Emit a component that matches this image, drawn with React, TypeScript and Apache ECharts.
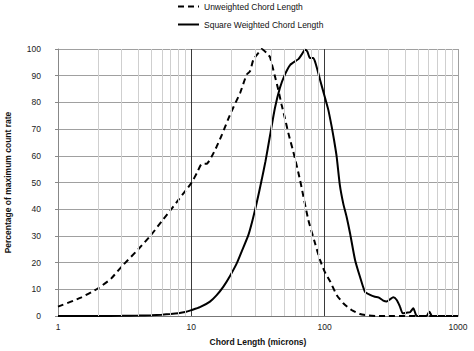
import React, { useEffect, useRef } from "react";
import * as echarts from "echarts";

const unweightedX = [1, 1.5, 2, 2.5, 3, 4, 5, 6, 7, 8, 9, 10, 11, 12, 13, 14.2, 15.5, 17, 19, 20.6, 23.2, 26, 27.5, 29.2, 31.8, 33.7, 36.7, 38.9, 40, 42.4, 44.9, 47.6, 50.4, 53.4, 58.2, 65.3, 75.4, 85, 92.3, 100, 110, 123, 138, 159, 184, 210, 250, 1000];
const unweightedY = [3.5, 7, 10.4, 14, 18.5, 25, 30.4, 35.5, 39.7, 43.5, 46.8, 49.8, 53.5, 57, 57, 59.7, 63.5, 68, 74, 78, 83.5, 90.4, 91.6, 96, 98.5, 100, 98.5, 97, 94.7, 89.7, 84.7, 79, 74, 68.5, 61.5, 51, 36, 27, 21, 16.6, 12.9, 7.9, 4.75, 2.25, 0.75, 0.2, 0, 0];

const weightedX = [1, 2, 3, 4, 5, 6, 7, 8, 9, 10, 11.6, 13.8, 15.5, 17.4, 19.5, 21.9, 24, 26.8, 28.8, 30.9, 33.7, 36, 38.9, 42.4, 46.2, 50.4, 55, 59.9, 63.5, 67.2, 71.2, 74.1, 77.6, 82.2, 86.1, 92.3, 100, 106.5, 112.8, 117.5, 123, 130, 138, 146, 155, 169, 184, 200.6, 219, 238, 253, 275, 292, 309, 327, 347, 367, 385, 412, 437, 462, 484, 500, 580, 610, 640, 1000];
const weightedY = [0, 0, 0.05, 0.15, 0.3, 0.5, 0.75, 1.05, 1.5, 2.2, 3.3, 5.4, 7.8, 11, 15, 19.7, 24.5, 30.4, 36, 42.3, 51, 58, 67.5, 78, 85.5, 90.5, 94, 95.4, 96.2, 97.9, 99.7, 99.1, 96.6, 96.6, 94.1, 88.5, 82.2, 77.2, 71, 66, 59.7, 49, 42, 37.2, 31, 21, 14.7, 9.1, 7.9, 7.2, 7, 5.75, 5.4, 6.25, 7, 6, 3.5, 1, 1.25, 1.4, 2.9, 0.4, 0, 0, 1.6, 0, 0];

const minorGridX = [2, 3, 4, 5, 6, 7, 8, 9, 20, 30, 40, 50, 60, 70, 80, 90, 200, 300, 400, 500, 600, 700, 800, 900];
const seriesNames = ["Unweighted Chord Length", "Square Weighted Chord Length"];
const xAxisTitle = "Chord Length (microns)";
const yAxisTitle = "Percentage of maximum count rate";

const FONT = "'Liberation Sans', Arial, sans-serif";

export default function App() {
  const ref = useRef<HTMLDivElement>(null);
  useEffect(() => {
    if (!ref.current) return;
    const chart = echarts.init(ref.current, undefined, { renderer: "svg" });
    chart.setOption({
      animation: false,
      backgroundColor: "#ffffff",
      textStyle: { fontFamily: FONT },
      legend: {
        orient: "vertical",
        left: 177,
        top: 2,
        padding: 0,
        itemWidth: 21,
        itemHeight: 10,
        itemGap: 9,
        itemStyle: { opacity: 0 },
        textStyle: { fontFamily: FONT, fontSize: 8.5, color: "#111" },
        data: seriesNames,
      },
      grid: { left: 58, right: 16, top: 49, bottom: 35, containLabel: false, outerBoundsMode: "none" },
      xAxis: {
        type: "log",
        logBase: 10,
        min: 1,
        max: 1000,
        name: xAxisTitle,
        nameLocation: "middle",
        nameGap: 21,
        nameTextStyle: { fontFamily: FONT, fontSize: 8.5, fontWeight: "bold", color: "#111" },
        axisLine: { show: true, lineStyle: { color: "#777", width: 1 } },
        axisTick: { show: false },
        axisLabel: { fontFamily: FONT, fontSize: 8.5, color: "#222", margin: 6, formatter: (v: number) => String(v) },
        splitLine: {
          show: true,
          lineStyle: { color: ["#a0a0a0", "#3a3a3a", "#3a3a3a", "#a0a0a0"], width: 1 },
        },
        minorTick: { show: false },
        minorSplitLine: { show: false },
      },
      yAxis: {
        type: "value",
        min: 0,
        max: 100,
        interval: 10,
        name: yAxisTitle,
        nameLocation: "middle",
        nameGap: 46,
        nameTextStyle: { fontFamily: FONT, fontSize: 8.5, fontWeight: "bold", color: "#111" },
        axisLine: { show: true, lineStyle: { color: "#888", width: 1 } },
        axisTick: { show: true, length: 3, lineStyle: { color: "#888" } },
        axisLabel: { fontFamily: FONT, fontSize: 8.5, color: "#222", margin: 17 },
        splitLine: { show: true, lineStyle: { color: "#a0a0a0", width: 1 } },
      },
      series: [
        {
          name: "minor-grid",
          type: "line",
          data: [],
          z: 1,
          silent: true,
          markLine: {
            silent: true,
            symbol: "none",
            label: { show: false },
            lineStyle: { color: "#cfcfcf", width: 1, type: "solid" },
            emphasis: { disabled: true },
            data: minorGridX.map((v) => ({ xAxis: v })),
          },
        },
        {
          name: seriesNames[0],
          type: "line",
          z: 3,
          showSymbol: false,
          symbol: "none",
          smooth: 0.2,
          lineStyle: { color: "#000", width: 2, type: [6, 4] },
          itemStyle: { color: "#000" },
          data: unweightedX.map((x, i) => [x, unweightedY[i]]),
        },
        {
          name: seriesNames[1],
          type: "line",
          z: 3,
          showSymbol: false,
          symbol: "none",
          smooth: 0.2,
          lineStyle: { color: "#000", width: 2, type: "solid" },
          itemStyle: { color: "#000" },
          data: weightedX.map((x, i) => [x, weightedY[i]]),
        },
      ],
    });
    return () => chart.dispose();
  }, []);
  return <div ref={ref} style={{ width: 474, height: 351, position: "fixed", left: 0, top: 0 }} />;
}
